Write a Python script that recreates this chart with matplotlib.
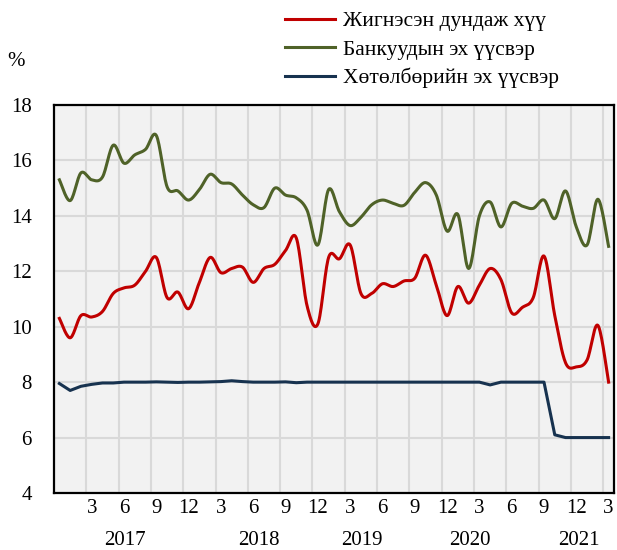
import numpy as np
import matplotlib
matplotlib.use("Agg")
import matplotlib.pyplot as plt
from matplotlib.transforms import blended_transform_factory

plt.rcParams['font.family'] = ['Liberation Serif', 'DejaVu Serif']

# monthly data, Dec 2016 .. Mar 2021
weighted_avg = [10.3, 9.6, 10.4, 10.35, 10.55, 11.2, 11.4, 11.5, 12.0, 12.5,
                11.05, 11.25, 10.65, 11.6, 12.5, 11.95, 12.1, 12.15, 11.6, 12.1,
                12.25, 12.75, 13.2, 10.75, 10.1, 12.5, 12.45, 12.95, 11.2, 11.2,
                11.55, 11.45, 11.65, 11.75, 12.58, 11.5, 10.4, 11.45, 10.85, 11.5,
                12.1, 11.7, 10.5, 10.7, 11.05, 12.55, 10.4, 8.7, 8.55, 8.8,
                10.05, 8.0]
bank_funds = [15.3, 14.55, 15.55, 15.3, 15.4, 16.55, 15.9, 16.2, 16.4, 16.9,
              15.05, 14.9, 14.57, 14.95, 15.5, 15.2, 15.15, 14.75, 14.4, 14.3,
              15.0, 14.75, 14.65, 14.2, 12.95, 14.95, 14.15, 13.65, 13.95, 14.4,
              14.57, 14.45, 14.38, 14.85, 15.2, 14.75, 13.45, 14.05, 12.1, 14.0,
              14.5, 13.6, 14.45, 14.35, 14.27, 14.57, 13.9, 14.9, 13.6, 12.95,
              14.6, 12.9]
program_funds = [7.95, 7.7, 7.85, 7.92, 7.97, 7.97, 8.0, 8.0, 8.0, 8.01,
                 8.0, 7.99, 8.0, 8.0, 8.01, 8.02, 8.05, 8.02, 8.0, 8.0,
                 8.0, 8.01, 7.98, 8.0, 8.0, 8.0, 8.0, 8.0, 8.0, 8.0,
                 8.0, 8.0, 8.0, 8.0, 8.0, 8.0, 8.0, 8.0, 8.0, 8.0,
                 7.9, 8.0, 8.0, 8.0, 8.0, 8.0, 6.1, 6.0, 6.0, 6.0,
                 6.0, 6.0]

month_labels = ["12", "1", "2", "3", "4", "5", "6", "7", "8", "9", "10", "11"]
years = ["2017", "2018", "2019", "2020", "2021"]
year_pos = [6.1, 18.5, 28.1, 38.1, 48.2]

series_names = ["Жигнэсэн дундаж хүү", "Банкуудын эх үүсвэр", "Хөтөлбөрийн эх үүсвэр"]
colors = ["#C00000", "#4F6228", "#17324F"]


def smooth(y, n=16):
    # Catmull-Rom curve through the points, like Excel's smoothed line
    y = np.asarray(y, dtype=float)
    x = np.arange(len(y), dtype=float)
    xp = np.concatenate([[x[0]], x, [x[-1]]])
    yp = np.concatenate([[y[0]], y, [y[-1]]])
    xs, ys = [], []
    t = np.linspace(0, 1, n, endpoint=False)
    for i in range(len(y) - 1):
        for P, out in ((yp[i:i + 4], ys), (xp[i:i + 4], xs)):
            a, b, c, d = P
            out.append(0.5 * ((2 * b) + (-a + c) * t + (2 * a - 5 * b + 4 * c - d) * t ** 2
                              + (-a + 3 * b - 3 * c + d) * t ** 3))
    xs.append([x[-1]])
    ys.append([y[-1]])
    return np.concatenate(xs), np.concatenate(ys)


fig = plt.figure(figsize=(6.17, 5.5), dpi=100)
ax = fig.add_axes([54 / 617, 57 / 550, 560 / 617, 388 / 550])
ax.set_facecolor("#F2F2F2")

n = len(weighted_avg)
idx = np.arange(n)

xs, ys = smooth(weighted_avg)
ax.plot(xs, ys, color=colors[0], lw=2.2, label=series_names[0], zorder=3)
xs, ys = smooth(bank_funds)
ax.plot(xs, ys, color=colors[1], lw=2.2, label=series_names[1], zorder=3)
ax.plot(idx, program_funds, color=colors[2], lw=2.2, label=series_names[2], zorder=3)

ax.set_xlim(-0.5, n - 0.5)
ax.set_ylim(4, 18)
ax.set_yticks(np.arange(4, 19, 2))

tick_idx = idx[3::3]
ax.set_xticks(tick_idx, [month_labels[i % 12] for i in tick_idx])
ax.set_xticks(np.arange(2.5, n - 1, 3), minor=True)
ax.tick_params(axis="x", which="both", length=0, pad=4, labelsize=15)
ax.tick_params(axis="y", length=0, pad=16, labelsize=15)
ax.grid(False)
ax.yaxis.grid(True, color="#D9D9D9", lw=1.5)
ax.xaxis.grid(True, which="minor", color="#D9D9D9", lw=1.5)
ax.set_axisbelow(True)
for sp in ax.spines.values():
    sp.set_color("black")
    sp.set_linewidth(1.6)

trans = blended_transform_factory(ax.transData, ax.transAxes)
for yr, xp in zip(years, year_pos):
    ax.text(xp, -0.123, yr, transform=trans, ha="center", va="center", fontsize=15)

fig.text(16 / 617, 1 - 61 / 550, "%", ha="center", va="center", fontsize=15)

fig.legend(loc="upper left", bbox_to_anchor=(285 / 617, 1 - 11 / 550), frameon=False,
           fontsize=15.5, handlelength=2.33, handletextpad=0.37, labelspacing=0.39,
           borderpad=0, borderaxespad=0)

fig.savefig("out.png", dpi=100)
